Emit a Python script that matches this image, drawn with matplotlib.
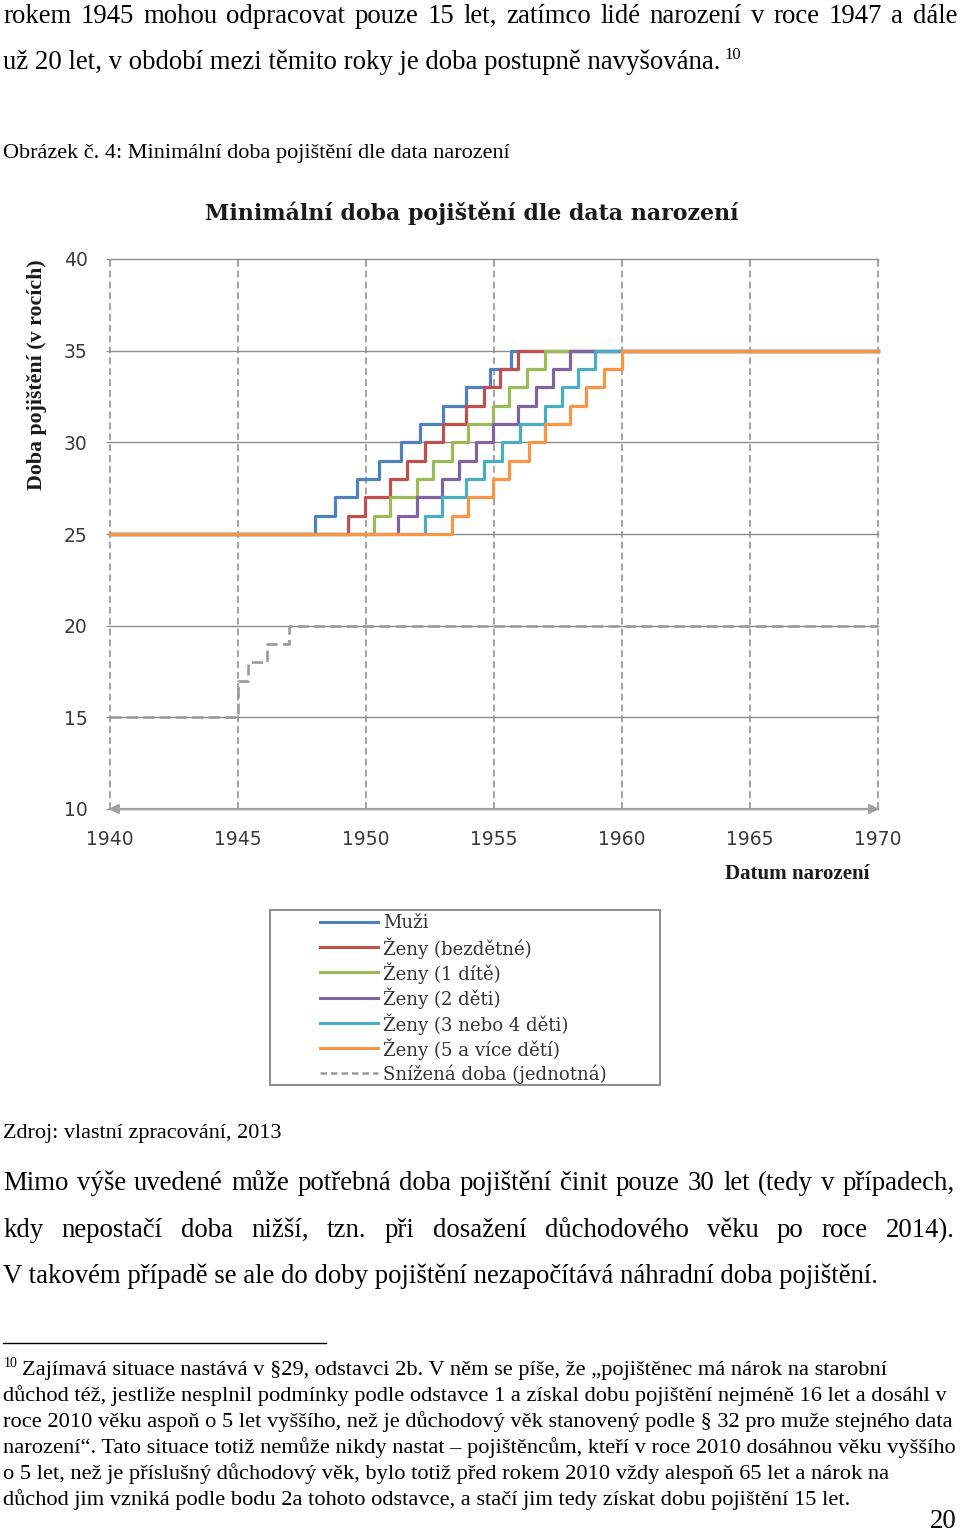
import matplotlib
matplotlib.use("Agg")
import matplotlib.pyplot as plt
from matplotlib.patches import Rectangle

# ---------------- data ----------------
series_labels = ["Muži", "Ženy (bezdětné)", "Ženy (1 dítě)", "Ženy (2 děti)",
                 "Ženy (3 nebo 4 děti)", "Ženy (5 a více dětí)"]
series_colors = ["#4F81BD", "#C0504D", "#9BBB59", "#8064A2", "#4BACC6", "#F79646"]
levels = [25, 26, 27, 28, 29, 30, 31, 32, 33, 34, 35]
years_muzi = [1948.0, 1948.8, 1949.65, 1950.5, 1951.35, 1952.1, 1953.0, 1953.9, 1954.85, 1955.65]
years_bezdetne = [1949.3, 1949.95, 1950.95, 1951.6, 1952.3, 1953.0, 1953.9, 1954.6, 1955.25, 1955.95]
years_1dite = [1950.3, 1950.95, 1952.0, 1952.6, 1953.35, 1954.0, 1954.95, 1955.6, 1956.3, 1957.0]
years_2deti = [1951.25, 1952.0, 1952.95, 1953.65, 1954.3, 1954.95, 1955.95, 1956.65, 1957.3, 1957.95]
years_3_4deti = [1952.3, 1952.95, 1953.9, 1954.6, 1955.3, 1956.0, 1957.0, 1957.65, 1958.3, 1958.95]
years_5deti = [1953.35, 1954.0, 1954.95, 1955.6, 1956.35, 1957.0, 1957.95, 1958.6, 1959.3, 1960.0]
series_years = [years_muzi, years_bezdetne, years_1dite, years_2deti, years_3_4deti, years_5deti]

reduced_label = "Snížená doba (jednotná)"
reduced_years = [1945.0, 1945.4, 1946.15, 1947.0]
reduced_levels = [15, 17, 18, 19, 20]

x_start, x_end = 1940, 1970
x_ticks = [1940, 1945, 1950, 1955, 1960, 1965, 1970]
x_ticklabels = ["1940", "1945", "1950", "1955", "1960", "1965", "1970"]
y_ticks = [10, 15, 20, 25, 30, 35, 40]
y_ticklabels = ["10", "15", "20", "25", "30", "35", "40"]

chart_title = "Minimální doba pojištění dle data narození"
y_title = "Doba pojištění (v rocích)"
x_title = "Datum narození"

# ---------------- figure ----------------
W, H = 960, 1533
fig = plt.figure(figsize=(W / 100, H / 100), dpi=100)
page = fig.add_axes([0, 0, 1, 1])
page.set_xlim(0, W)
page.set_ylim(H, 0)
page.axis("off")
renderer = fig.canvas.get_renderer()

SERIF = "Liberation Serif"


def text_width(s, size, family=SERIF, weight="normal"):
    t = page.text(0, 0, s, fontsize=size, family=family, weight=weight)
    w = t.get_window_extent(renderer).width
    t.remove()
    return w


def fit_size(s, target, family=SERIF, weight="normal"):
    return 10.0 * target / text_width(s, 10.0, family, weight)


def put_left(s, x, y, size, **kw):
    page.text(x, y, s, fontsize=size, family=kw.pop("family", SERIF),
              ha="left", va="baseline", **kw)


def put_justified(s, x0, x1, y, size):
    words = s.split(" ")
    ws = [text_width(w, size) for w in words]
    gap = (x1 - x0 - sum(ws)) / (len(words) - 1)
    x = x0
    for w, wd in zip(words, ws):
        page.text(x, y, w, fontsize=size, family=SERIF, ha="left", va="baseline")
        x += wd + gap


# ---------------- body text ----------------
L1 = "rokem 1945 mohou odpracovat pouze 15 let, zatímco lidé narození v roce 1947 a dále"
L2 = "už 20 let, v období mezi těmito roky je doba postupně navyšována."
CAP = "Obrázek č. 4: Minimální doba pojištění dle data narození"
SRC = "Zdroj: vlastní zpracování, 2013"
P1 = "Mimo výše uvedené může potřebná doba pojištění činit pouze 30 let (tedy v případech,"
P2 = "kdy nepostačí doba nižší, tzn. při dosažení důchodového věku po roce 2014)."
P3 = "V takovém případě se ale do doby pojištění nezapočítává náhradní doba pojištění."
F = ["Zajímavá situace nastává v §29, odstavci 2b. V něm se píše, že „pojištěnec má nárok na starobní",
     "důchod též, jestliže nesplnil podmínky podle odstavce 1 a získal dobu pojištění nejméně 16 let a dosáhl v",
     "roce 2010 věku aspoň o 5 let vyššího, než je důchodový věk stanovený podle § 32 pro muže stejného data",
     "narození“. Tato situace totiž nemůže nikdy nastat – pojištěncům, kteří v roce 2010 dosáhnou věku vyššího",
     "o 5 let, než je příslušný důchodový věk, bylo totiž před rokem 2010 vždy alespoň 65 let a nárok na",
     "důchod jim vzniká podle bodu 2a tohoto odstavce, a stačí jim tedy získat dobu pojištění 15 let."]

body = (fit_size(L2, 719) + fit_size(P3, 877)) / 2
put_justified(L1, 3, 957, 23, body)
put_left(L2, 3, 69, body)
put_left("10", 724, 59, body * 0.62)

cap = (fit_size(CAP, 510) + fit_size(SRC, 280)) / 2
put_left(CAP, 3, 158, cap)
put_left(SRC, 3, 1138, cap)

put_justified(P1, 3, 955, 1190, body)
put_justified(P2, 3, 955, 1237, body)
put_left(P3, 3, 1283, body)

page.plot([3, 326], [1343, 1343], color="black", lw=1.0)
fn_targets = [864, 941, 948, 952, 883, 845]
fn = sorted(fit_size(s, t) for s, t in zip(F, fn_targets))
fn = (fn[2] + fn[3]) / 2
put_left("10", 4, 1367, fn * 0.62)
put_left(F[0], 22, 1375, fn)
for i, s in enumerate(F[1:]):
    put_left(s, 3, 1401 + 26 * i, fn)
page.text(957, 1528, "20", fontsize=body, family=SERIF, ha="right", va="baseline")

# ---------------- chart ----------------
ax = fig.add_axes([110 / W, 1 - 809 / H, (878 - 110) / W, (809 - 259) / H])
ax.set_xlim(x_start, x_end)
ax.set_ylim(10, 40)
for sp in ax.spines.values():
    sp.set_visible(False)
ax.set_facecolor("none")

grid_col = "#8c8c8c"
ax.set_yticks(y_ticks)
ax.set_yticklabels(y_ticklabels)
ax.set_xticks(x_ticks)
ax.set_xticklabels(x_ticklabels)
ax.yaxis.grid(True, color=grid_col, lw=1.0, ls="-")
ax.xaxis.grid(True, color=grid_col, lw=1.1, ls=(0, (4.5, 2.6)))
for gl in ax.get_xgridlines() + ax.get_ygridlines():
    gl.set_clip_on(False)
ax.set_axisbelow(True)
ax.tick_params(axis="y", length=3, color=grid_col, pad=13, labelsize=13.5, labelcolor="#3a3a3a")
ax.tick_params(axis="x", length=0, pad=15, labelsize=13.5, labelcolor="#3a3a3a")
for lab in ax.get_xticklabels() + ax.get_yticklabels():
    lab.set_family("DejaVu Sans")

lines = []
for yrs, col in zip(series_years, series_colors):
    xs = [x_start] + yrs + [x_end]
    ys = levels + [levels[-1]]
    ln, = ax.step(xs, ys, where="post", color=col, lw=2.3, clip_on=False, zorder=3)
    lines.append(ln)
gray_col = "#9a9a9a"
xs = [x_start] + reduced_years + [x_end]
ys = reduced_levels + [reduced_levels[-1]]
ax.step(xs, ys, where="post", color=gray_col, lw=1.9, ls=(0, (4.2, 2.0)), clip_on=False, zorder=3)

ax.annotate("", xy=(x_end + 0.05, 10), xytext=(x_start - 0.05, 10),
            arrowprops=dict(arrowstyle="<|-|>,head_length=0.55,head_width=0.28",
                            color="#a0a0a0", lw=1.6, shrinkA=0, shrinkB=0),
            annotation_clip=False, zorder=4)

# titles
tsize = fit_size(chart_title, 535, "DejaVu Serif", "bold")
page.text(472, 213, chart_title, fontsize=tsize, family="DejaVu Serif", weight="bold",
          ha="center", va="center", color="#1a1a1a")
ysize = fit_size(y_title, 230, SERIF, "bold")
page.text(37, 375, y_title, fontsize=ysize, family=SERIF, weight="bold",
          rotation=90, ha="center", va="center", color="#1a1a1a")
xsize = fit_size(x_title, 145, SERIF, "bold")
page.text(797, 874, x_title, fontsize=xsize, family=SERIF, weight="bold",
          ha="center", va="center", color="#1a1a1a")

# legend
page.add_patch(Rectangle((270, 910), 390, 175, fill=False, edgecolor=grid_col, lw=1.4))
leg_size = fit_size(reduced_label, 224, "DejaVu Serif")
leg_items = [(c, "-", 2.2, l) for c, l in zip(series_colors, series_labels)]
leg_items.append((gray_col, (0, (2.6, 1.6)), 1.8, reduced_label))
for i, (c, ls, lw, lab) in enumerate(leg_items):
    y = 922 + i * 25.2
    page.plot([320, 378], [y, y], color=c, lw=lw, ls=ls)
    page.text(383, y + 1, lab, fontsize=leg_size, family="DejaVu Serif", ha="left",
              va="center", color="#333333")

fig.savefig("out.png", dpi=100)
